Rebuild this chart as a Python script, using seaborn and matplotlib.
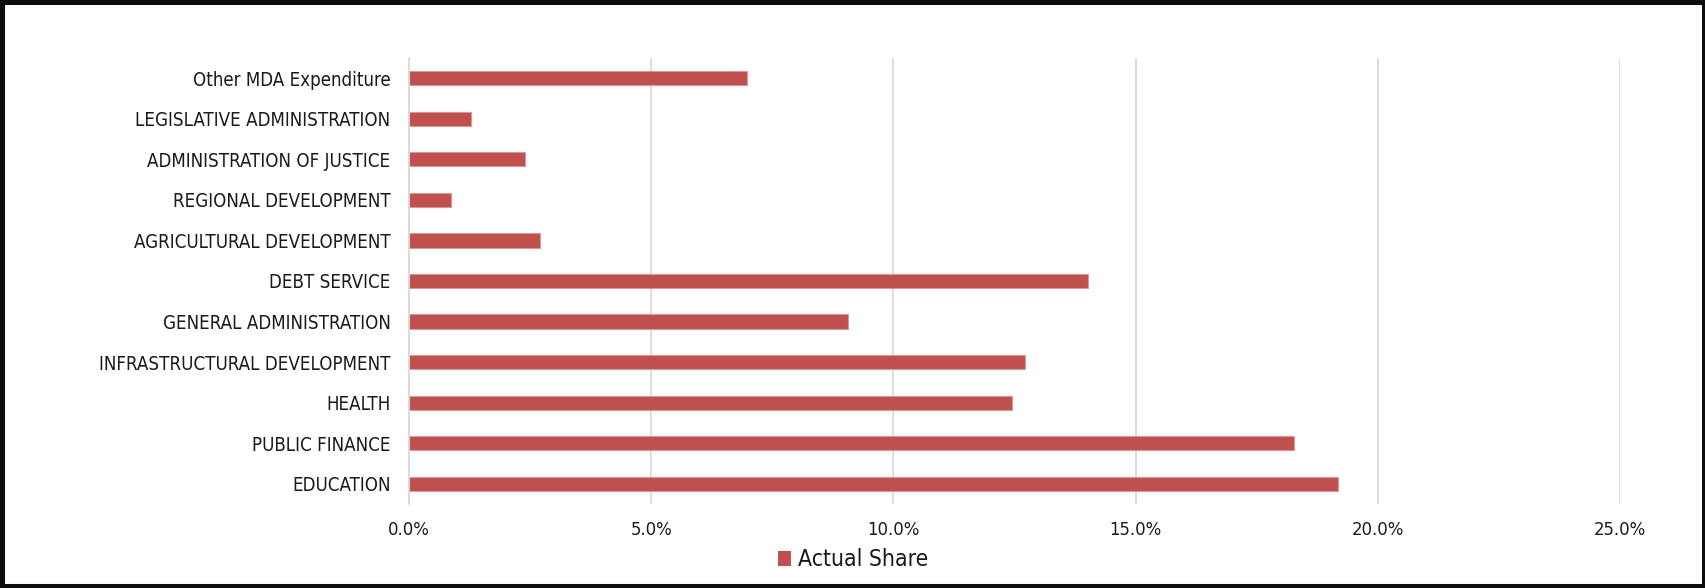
import matplotlib
matplotlib.use("Agg")
import matplotlib.pyplot as plt
import seaborn as sns
import pandas as pd
from matplotlib import font_manager
from matplotlib.patches import Rectangle, Patch
from matplotlib.ticker import PercentFormatter, MultipleLocator

categories = [
    "Other MDA Expenditure",
    "LEGISLATIVE ADMINISTRATION",
    "ADMINISTRATION OF JUSTICE",
    "REGIONAL DEVELOPMENT",
    "AGRICULTURAL DEVELOPMENT",
    "DEBT SERVICE",
    "GENERAL ADMINISTRATION",
    "INFRASTRUCTURAL DEVELOPMENT",
    "HEALTH",
    "PUBLIC FINANCE",
    "EDUCATION",
]
actual_share = [6.98, 1.27, 2.39, 0.86, 2.71, 14.02, 9.07, 12.71, 12.45, 18.26, 19.18]
series_name = "Actual Share"

df = pd.DataFrame({"Category": categories, "Share": actual_share})

sns.set_theme(style="white")
plt.rcParams["font.family"] = ["DejaVu Sans"]

# use condensed DejaVu if it is installed, otherwise normal width
has_condensed = any("Condensed" in f.fname and "DejaVuSans" in f.fname
                    for f in font_manager.fontManager.ttflist)
stretch = "condensed" if has_condensed else "normal"
ysize = 13.4 if has_condensed else 12.2
xsize = 13.2 if has_condensed else 12
lsize = 16.5 if has_condensed else 15

fig = plt.figure(figsize=(17.06, 5.88), dpi=100)
ax = fig.add_axes([409 / 1706, 1 - 504 / 588, (1620 - 409) / 1706, (504 - 58) / 588])

sns.barplot(data=df, x="Share", y="Category", orient="h", color="#C0504D",
            saturation=1, width=0.35, edgecolor="#D99694", linewidth=0.8, ax=ax)

ax.set_xlim(0, 25)
ax.set_ylim(10.5, -0.5)
ax.xaxis.set_major_locator(MultipleLocator(5))
ax.xaxis.set_major_formatter(PercentFormatter(decimals=1))
ax.grid(axis="x", color="#D9D9D9", linewidth=1.3)
ax.grid(axis="y", visible=False)
ax.set_axisbelow(True)
for s in ["top", "right", "bottom"]:
    ax.spines[s].set_visible(False)
ax.spines["left"].set_color("#D9D9D9")
ax.spines["left"].set_linewidth(1.3)
ax.tick_params(axis="both", length=0)
ax.tick_params(axis="y", pad=13.4, labelcolor="#1a1a1a")
ax.tick_params(axis="x", pad=12, labelcolor="#1a1a1a")
for lab in ax.get_yticklabels():
    lab.set_fontstretch(stretch)
    lab.set_fontsize(ysize)
for lab in ax.get_xticklabels():
    lab.set_fontstretch(stretch)
    lab.set_fontsize(xsize)
ax.set_xlabel("")
ax.set_ylabel("")

handle = Patch(facecolor="#C0504D", edgecolor="none")
leg = fig.legend([handle], [series_name], loc="center", bbox_to_anchor=(0.5, 1 - 560 / 588),
                 frameon=False, prop={"size": lsize, "stretch": stretch},
                 handlelength=0.6, handleheight=0.6, handletextpad=0.3, labelcolor="#1a1a1a")

fig.patches.append(Rectangle((0, 0), 1, 1, transform=fig.transFigure, fill=False,
                             edgecolor="#0d0d0d", linewidth=6.5, zorder=10))

fig.savefig("out.png", dpi=100)
